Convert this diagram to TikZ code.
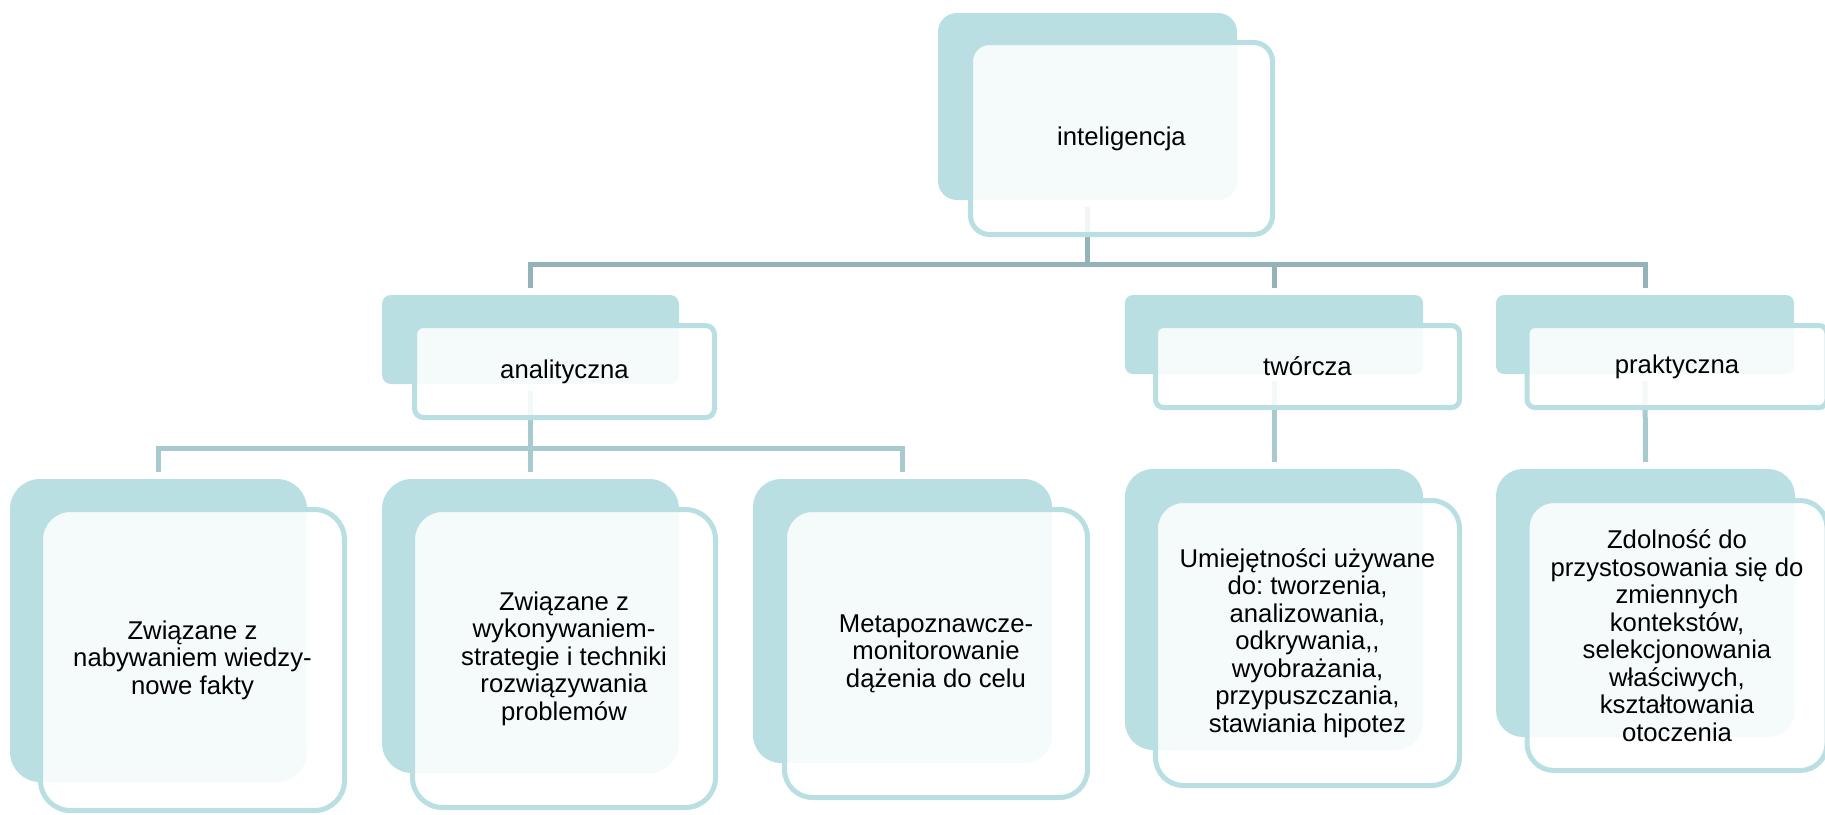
\documentclass[tikz,border=0pt]{standalone}
\usepackage{fontspec}
\setmainfont{Liberation Sans}
\usepackage{tikz}
\frenchspacing
\definecolor{boxteal}{HTML}{B9DFE2}
\definecolor{lineteal}{HTML}{94B3B8}
\definecolor{sublineteal}{HTML}{A8CACE}
\newcommand\cardfont{\fontsize{25.7pt}{27.5pt}\selectfont}
\tikzset{
  backcard/.style={fill=boxteal, inner sep=0pt},
  frontcard/.style={draw=boxteal, line width=5pt, fill=white, fill opacity=0.87,
    text opacity=1, align=center, inner sep=0pt, font=\cardfont},
  conn/.style={draw=lineteal, line width=5pt},
  subconn/.style={draw=sublineteal, line width=5pt}
}

\begin{document}
\begin{tikzpicture}[x=1pt,y=-1pt]
\useasboundingbox (0,0) rectangle (1825,814);
% back cards
\node[backcard, rounded corners=19pt, minimum width=299pt, minimum height=187pt] (intel-b) at (1087.5,106.5) {};
\node[backcard, rounded corners=9pt, minimum width=297pt, minimum height=89pt] (analit-b) at (530.5,339.5) {};
\node[backcard, rounded corners=8pt, minimum width=298pt, minimum height=79pt] (tworcz-b) at (1274,334.5) {};
\node[backcard, rounded corners=8pt, minimum width=298pt, minimum height=79pt] (prakt-b) at (1645,334.5) {};
\node[backcard, rounded corners=30pt, minimum width=297pt, minimum height=303pt] (leaf1-b) at (158.5,630.5) {};
\node[backcard, rounded corners=30pt, minimum width=297pt, minimum height=294pt] (leaf2-b) at (530.5,626) {};
\node[backcard, rounded corners=28pt, minimum width=299pt, minimum height=284pt] (leaf3-b) at (902.5,621) {};
\node[backcard, rounded corners=28pt, minimum width=298pt, minimum height=281pt] (leaf4-b) at (1274,609.5) {};
\node[backcard, rounded corners=27pt, minimum width=299pt, minimum height=268pt] (leaf5-b) at (1645.5,603) {};
% connectors
\coordinate (bus1) at (1087.5,264);
\coordinate (bus2) at (530.5,448);
\draw[conn] ([yshift=-7pt]intel-b.south) -- (bus1);
\draw[conn] ([yshift=7pt]analit-b.north) |- (bus1) -| ([yshift=7pt]prakt-b.north);
\draw[conn] (bus1 -| tworcz-b.north) -- ([yshift=7pt]tworcz-b.north);
\draw[subconn] ([yshift=-7pt]analit-b.south) -- (bus2);
\draw[subconn] ([yshift=7pt]leaf1-b.north) |- (bus2) -| ([yshift=7pt]leaf3-b.north);
\draw[subconn] (bus2) -- ([yshift=7pt]leaf2-b.north);
\draw[subconn] ([yshift=-7pt]tworcz-b.south) -- ([yshift=7pt]leaf4-b.north);
\draw[subconn] ([yshift=-7pt]prakt-b.south) -- ([yshift=7pt]leaf5-b.north);
% front cards
\node[frontcard, rounded corners=19pt, minimum width=302pt, minimum height=192pt] (intel) at (1121.5,138.5) {inteligencja};
\node[frontcard, rounded corners=9pt, minimum width=300pt, minimum height=92pt] (analit) at (564.5,371.5) {analityczna};
\node[frontcard, rounded corners=8pt, minimum width=304pt, minimum height=82pt] (tworcz) at (1307.5,366.5) {twórcza};
\node[frontcard, rounded corners=8pt, minimum width=300pt, minimum height=82pt] (prakt) at (1677,366.5) {praktyczna};
\node[frontcard, rounded corners=30pt, minimum width=304pt, minimum height=301pt] (leaf1) at (192.5,660)
  {Związane z\\nabywaniem wiedzy-\\nowe fakty};
\node[frontcard, rounded corners=30pt, minimum width=303pt, minimum height=298pt] (leaf2) at (564,658.5)
  {Związane z\\wykonywaniem-\\strategie i techniki\\rozwiązywania\\problemów};
\node[frontcard, rounded corners=28pt, minimum width=303pt, minimum height=288pt] (leaf3) at (936,653.5)
  {Metapoznawcze-\\monitorowanie\\dążenia do celu};
\node[frontcard, rounded corners=28pt, minimum width=304pt, minimum height=285pt] (leaf4) at (1307.5,643)
  {Umiejętności używane\\do: tworzenia,\\analizowania,\\odkrywania,{},\\wyobrażania,\\przypuszczania,\\stawiania hipotez};
\node[frontcard, rounded corners=27pt, minimum width=300pt, minimum height=270pt] (leaf5) at (1677,635.5)
  {Zdolność do\\przystosowania się do\\zmiennych\\kontekstów,\\selekcjonowania\\właściwych,\\kształtowania\\otoczenia};
\end{tikzpicture}
\end{document}
